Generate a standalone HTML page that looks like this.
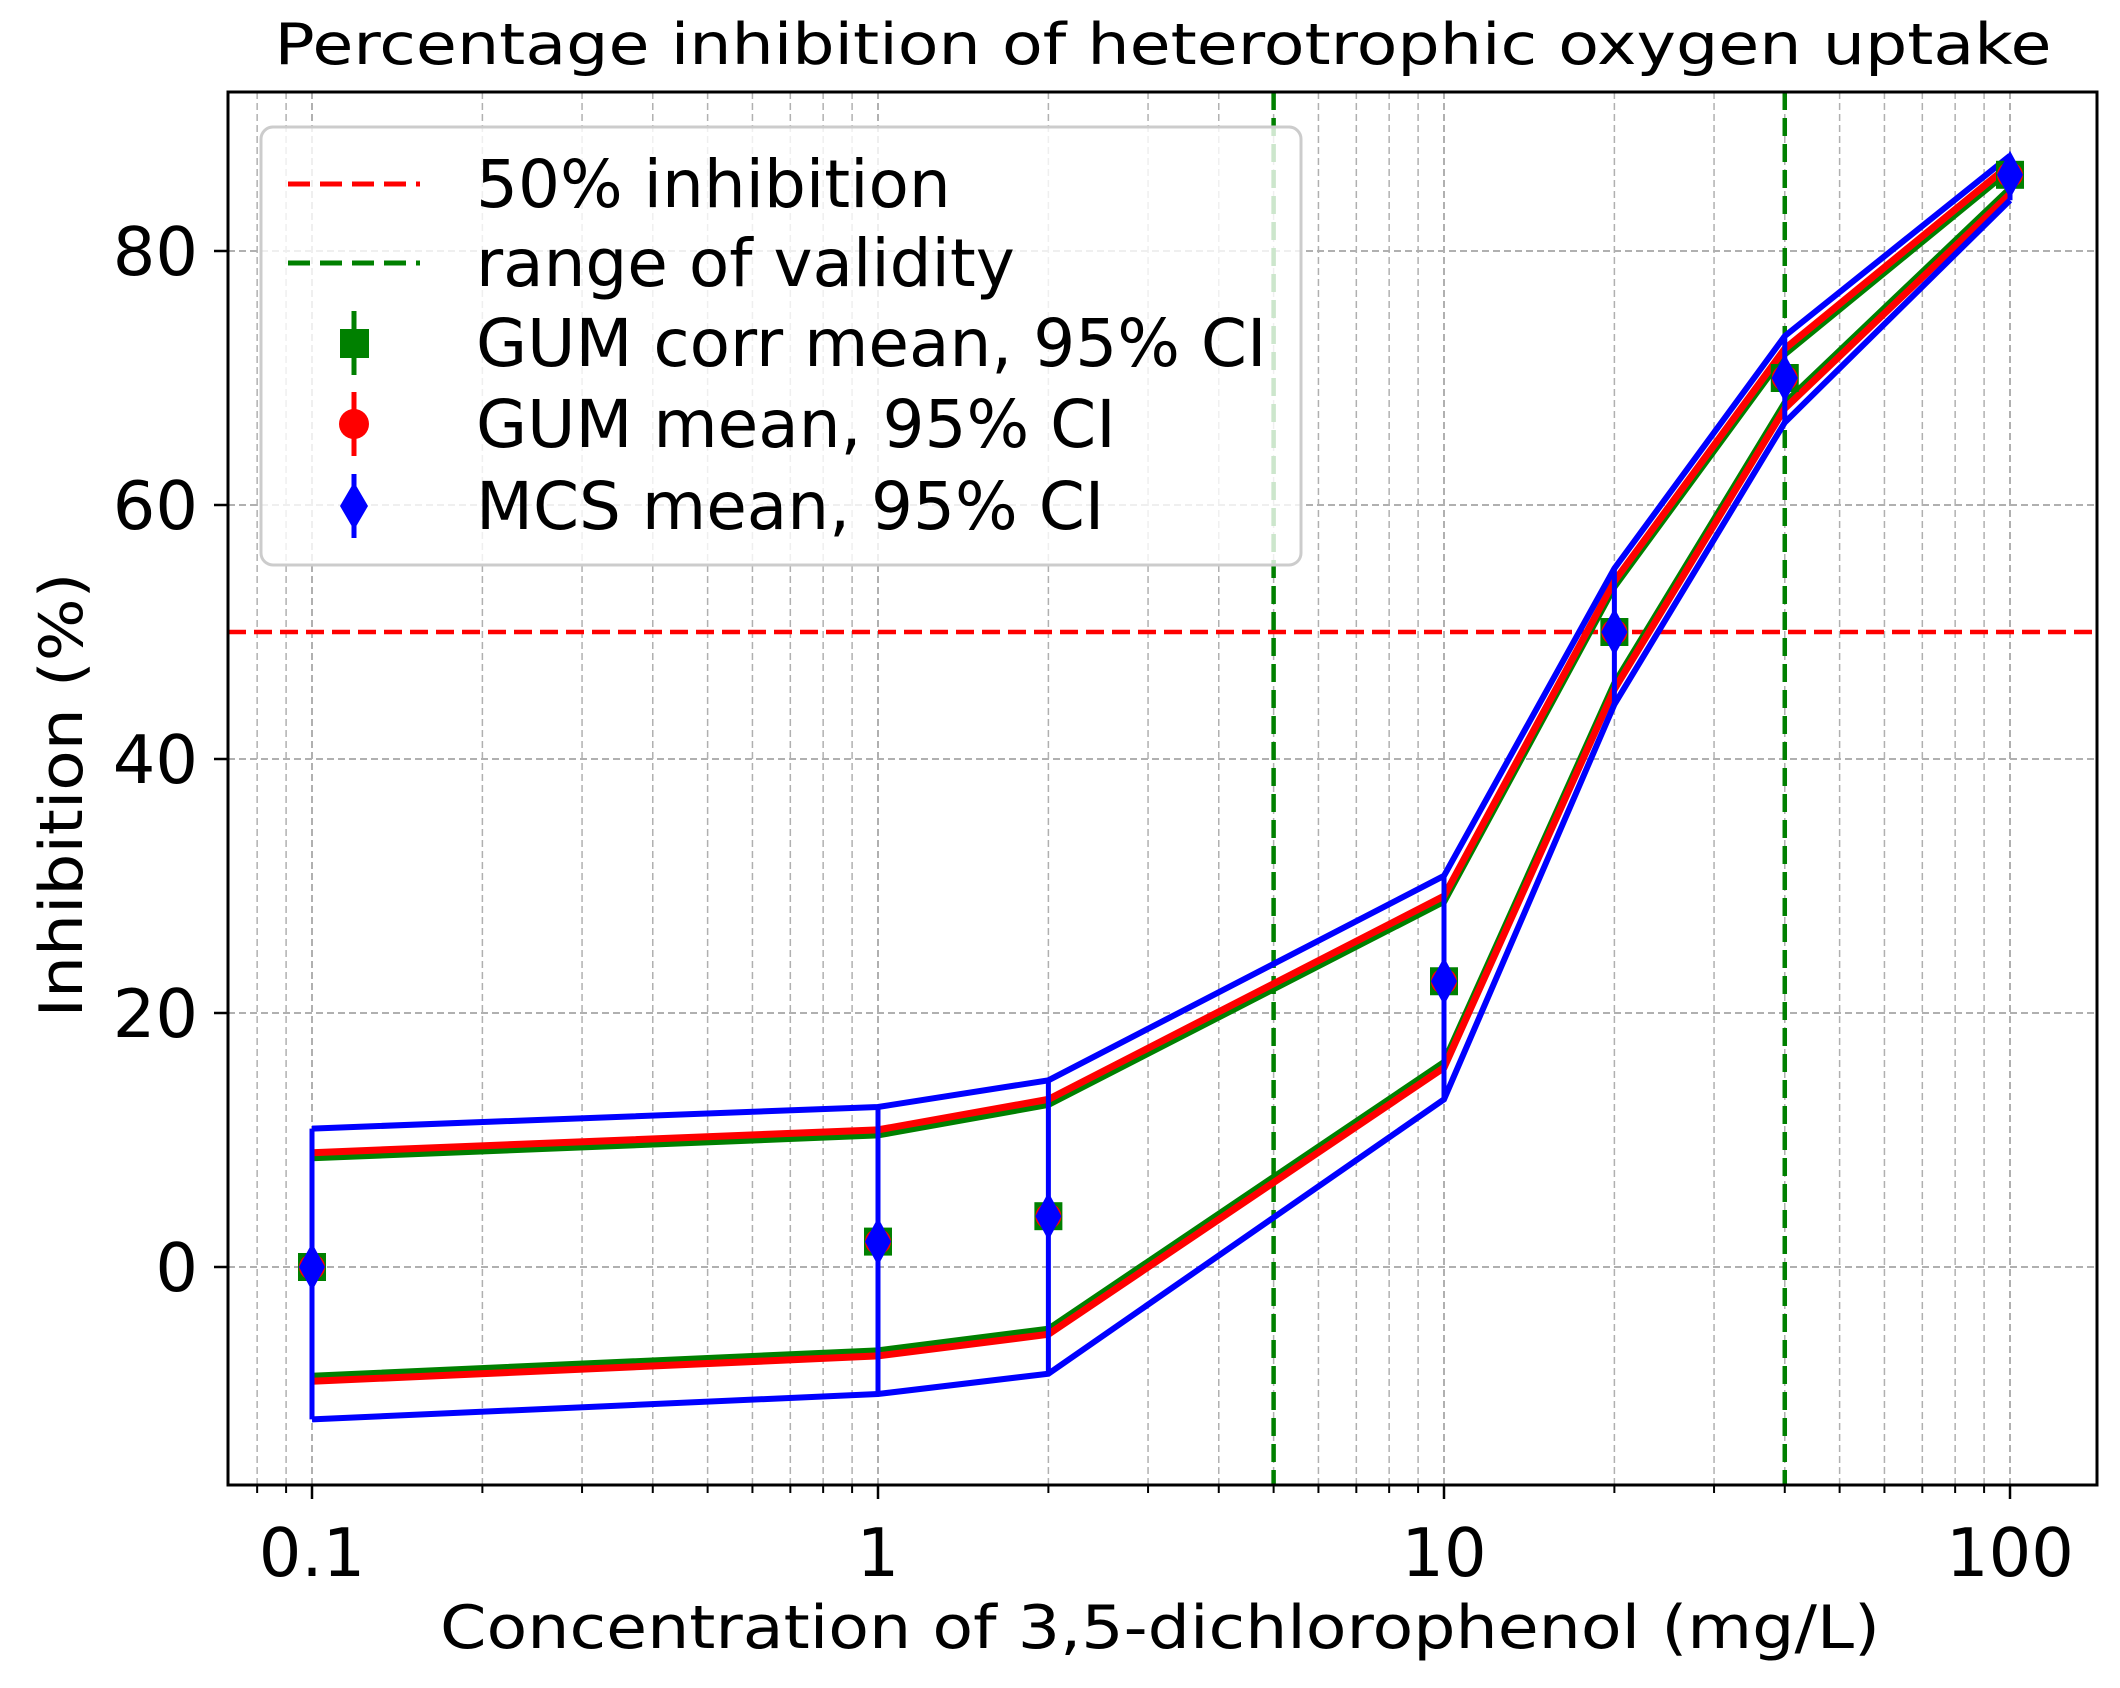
<!DOCTYPE html>
<html><head><meta charset="utf-8"><style>html,body{margin:0;padding:0;background:#fff}svg{display:block}</style></head>
<body>
<svg id="s" width="2120" height="1688" viewBox="0 0 2120 1688" xmlns="http://www.w3.org/2000/svg" font-family="DejaVu Sans, Liberation Sans, sans-serif">
<rect width="2120" height="1688" fill="#fff"/>
<g id="grid"></g>
<g id="data"></g>
<rect x="228" y="92" width="1869" height="1393" fill="none" stroke="#000" stroke-width="3"/>
<g id="ticks"></g>
<text x="1163" y="64" font-size="57" text-anchor="middle" textLength="1777" lengthAdjust="spacingAndGlyphs">Percentage inhibition of heterotrophic oxygen uptake</text>
<text x="1160" y="1648" font-size="60" text-anchor="middle" textLength="1440" lengthAdjust="spacingAndGlyphs">Concentration of 3,5-dichlorophenol (mg/L)</text>
<text transform="translate(82,795) rotate(-90)" font-size="60" text-anchor="middle" textLength="445" lengthAdjust="spacingAndGlyphs">Inhibition (%)</text>
<g id="legend">
<rect x="261" y="127" width="1040" height="438" rx="12" fill="#fff" fill-opacity="0.8" stroke="#ccc" stroke-width="3"/>
<line x1="288" y1="184" x2="420" y2="184" stroke="#f00" stroke-width="5" stroke-dasharray="22,10"/>
<line x1="288" y1="263" x2="420" y2="263" stroke="#008000" stroke-width="5" stroke-dasharray="22,10"/>
<line x1="354" y1="311" x2="354" y2="375" stroke="#008000" stroke-width="5"/>
<rect x="340" y="329" width="29" height="29" fill="#008000"/>
<line x1="354" y1="392" x2="354" y2="456" stroke="#f00" stroke-width="5"/>
<circle cx="354" cy="424" r="15" fill="#f00"/>
<line x1="354" y1="474" x2="354" y2="538" stroke="#00f" stroke-width="5"/>
<polygon points="354,482 368,506 354,530 340,506" fill="#00f"/>
<g font-size="66">
<text x="476" y="207">50% inhibition</text>
<text x="476" y="286">range of validity</text>
<text x="476" y="366">GUM corr mean, 95% CI</text>
<text x="476" y="447">GUM mean, 95% CI</text>
<text x="476" y="529">MCS mean, 95% CI</text>
</g>
</g>
</svg>
<script>
const NS="http://www.w3.org/2000/svg";
const X=v=>312+566*(Math.log10(v)+1), Y=v=>1267-12.7*v;
function el(p,t,a,txt){const e=document.createElementNS(NS,t);for(const k in a)e.setAttribute(k,a[k]);if(txt!==undefined)e.textContent=txt;document.getElementById(p).appendChild(e);return e;}
const xs=[];
for(const d of [0.01,0.1,1,10])for(let k=1;k<10;k++){const v=d*k;const x=X(v);if(x>228&&x<2097)xs.push([v,k==1]);}
xs.push([100,true]);
for(const [v,maj] of xs){const x=X(v);
 el("grid","line",{x1:x,y1:92,x2:x,y2:1485,stroke:"#b0b0b0","stroke-width":maj?2:1.5,"stroke-dasharray":"7,4"});
 el("ticks","line",{x1:x,y1:1485,x2:x,y2:1485+(maj?14:8),stroke:"#000","stroke-width":maj?2.5:2});}
for(const v of [0,20,40,60,80]){const y=Y(v);
 el("grid","line",{x1:228,y1:y,x2:2097,y2:y,stroke:"#b0b0b0","stroke-width":2,"stroke-dasharray":"7,4"});
 el("ticks","line",{x1:214,y1:y,x2:228,y2:y,stroke:"#000","stroke-width":2.5});
 el("ticks","text",{x:198,y:y+24,"font-size":67,"text-anchor":"end"},String(v));}
for(const [v,l] of [[0.1,"0.1"],[1,"1"],[10,"10"],[100,"100"]])
 el("ticks","text",{x:X(v),y:1576,"font-size":67,"text-anchor":"middle"},l);
el("data","line",{x1:228,y1:Y(50),x2:2097,y2:Y(50),stroke:"#f00","stroke-width":4.5,"stroke-dasharray":"18,8"});
for(const v of [5,40])el("data","line",{x1:X(v),y1:92,x2:X(v),y2:1485,stroke:"#008000","stroke-width":4.5,"stroke-dasharray":"18,8"});
const cx=[0.1,1,2,10,20,40,100];
const mean=[0,2,4,22.5,50,70,86];
const bu=[10.9,12.6,14.7,30.8,55,73.3,87.5], bl=[-12,-10,-8.4,13.2,44.3,66.5,84];
const ru=[9,10.8,13.2,29.2,54,72.3,86.8], rl=[-9,-7,-5.3,15.7,45.5,67.6,84.5];
const pts=a=>a.map((v,i)=>X(cx[i])+","+Y(v)).join(" ");
const off=(a,d)=>a.map(v=>v+d);
el("data","polyline",{points:pts(off(ru,-0.4)),fill:"none",stroke:"#008000","stroke-width":7});
el("data","polyline",{points:pts(off(rl,0.4)),fill:"none",stroke:"#008000","stroke-width":7});
el("data","polyline",{points:pts(ru),fill:"none",stroke:"#f00","stroke-width":7});
el("data","polyline",{points:pts(rl),fill:"none",stroke:"#f00","stroke-width":7});
el("data","polyline",{points:pts(bu),fill:"none",stroke:"#00f","stroke-width":6});
el("data","polyline",{points:pts(bl),fill:"none",stroke:"#00f","stroke-width":6});
cx.forEach((c,i)=>{const x=X(c),y=Y(mean[i]);
 el("data","line",{x1:x,y1:Y(bu[i]),x2:x,y2:Y(bl[i]),stroke:"#00f","stroke-width":5});
 el("data","rect",{x:x-14,y:y-14,width:28,height:28,fill:"#008000"});
 el("data","circle",{cx:x,cy:y,r:13,fill:"#f00"});
 el("data","polygon",{points:`${x},${y-24} ${x+13},${y} ${x},${y+24} ${x-13},${y}`,fill:"#00f"});
});
</script>
</body></html>
